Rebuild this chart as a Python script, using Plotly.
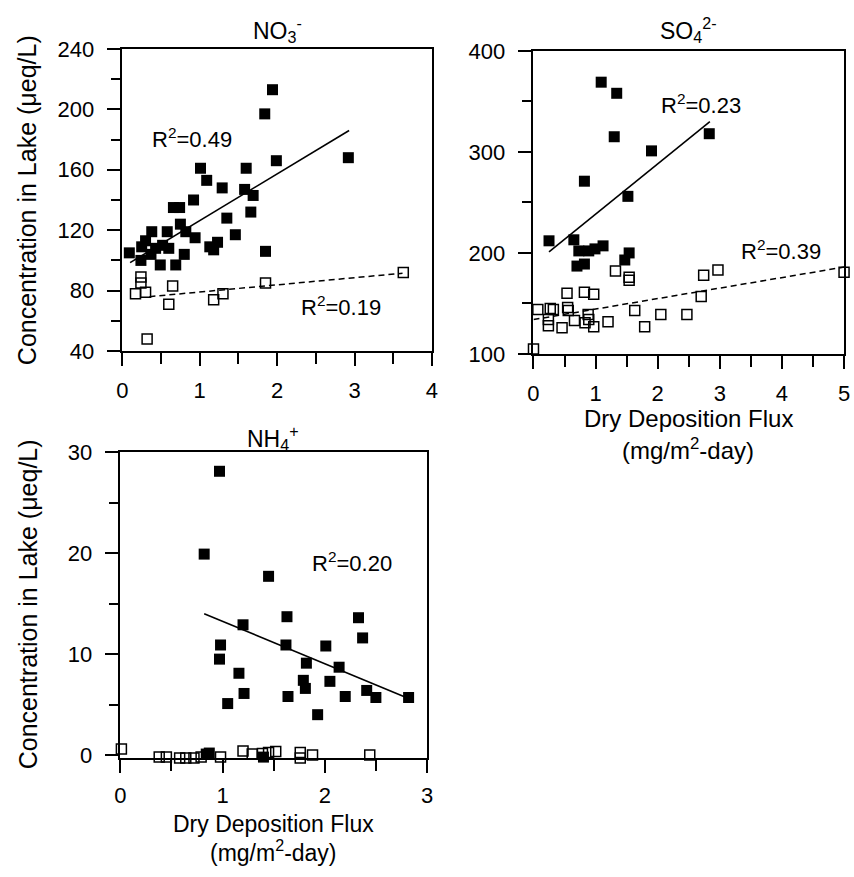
import plotly.graph_objects as go

# ---------------- data ----------------
no3_lake_x = [1.94, 1.84, 2.92, 1.99, 1.01, 1.60, 1.09, 1.29, 1.58, 1.69, 0.92, 0.66, 0.74, 1.66,
              1.35, 0.75, 0.38, 0.58, 0.82, 0.94, 1.46, 0.30, 1.23, 1.13, 0.43, 0.60, 0.09, 1.85,
              1.18, 0.80, 0.24, 0.49, 0.69, 0.37, 0.52, 0.25]
no3_lake_y = [213, 197, 168, 166, 161, 161, 153, 148, 147, 143, 140, 135, 135, 132,
              128, 124, 119, 119, 119, 115, 117, 113, 112, 109, 108, 108, 105, 106,
              107, 104, 100, 97, 97, 104, 110, 109]
no3_open_x = [3.63, 1.85, 0.65, 0.24, 0.24, 0.17, 0.30, 1.30, 1.18, 0.60, 0.32]
no3_open_y = [92, 85, 83, 89, 85, 78, 79, 78, 74, 71, 48]
no3_fit_x = [0.10, 2.93]
no3_fit_y = [98.5, 186]
no3_fit2_x = [0.35, 3.62]
no3_fit2_y = [76, 91.5]

so4_lake_x = [1.09, 1.34, 2.83, 1.30, 1.90, 0.82, 1.52, 0.25, 0.65, 0.73, 0.89, 0.99, 1.12,
              1.54, 1.47, 0.70, 0.82]
so4_lake_y = [369, 358, 318, 315, 301, 271, 256, 212, 213, 202, 202, 204, 207,
              200, 193, 187, 189]
so4_open_x = [5.0, 2.97, 2.74, 1.32, 1.54, 1.54, 2.70, 0.54, 0.82, 0.97, 1.63, 2.05, 2.47,
              0.55, 0.56, 0.07, 0.27, 0.32, 0.88, 0.89, 0.24, 0.24, 0.46, 0.66, 0.83, 0.97,
              1.20, 1.79, 0.0]
so4_open_y = [181, 183, 178, 182, 176, 173, 157, 160, 161, 159, 143, 139, 139,
              146, 143, 144, 145, 144, 139, 134, 134, 128, 126, 133, 131, 127,
              132, 127, 105]
so4_fit_x = [0.25, 2.84]
so4_fit_y = [201, 330]
so4_fit2_x = [0.0, 5.0]
so4_fit2_y = [134, 186]

nh4_lake_x = [0.97, 0.82, 1.45, 2.33, 1.63, 1.20, 2.37, 0.98, 1.62, 2.01, 0.97, 1.82, 2.14,
              1.16, 1.79, 2.05, 1.81, 2.41, 1.21, 2.50, 2.82, 1.64, 2.20, 1.05, 1.93,
              0.84, 0.87, 1.40]
nh4_lake_y = [28.1, 19.9, 17.7, 13.6, 13.7, 12.9, 11.6, 10.9, 10.9, 10.8, 9.5, 9.1, 8.7,
              8.1, 7.4, 7.3, 6.6, 6.4, 6.1, 5.7, 5.7, 5.8, 5.8, 5.1, 4.0,
              0.1, 0.2, -0.2]
nh4_open_x = [0.01, 0.38, 0.45, 0.58, 0.64, 0.72, 0.79, 0.98, 1.14, 1.20, 1.29, 1.39, 1.39,
              1.45, 1.52, 1.76, 1.76, 1.88, 2.44]
nh4_open_y = [0.6, -0.2, -0.2, -0.3, -0.3, -0.3, -0.2, -0.2, -0.4, 0.4, 0.1, 0.15, -0.4,
              0.25, 0.35, 0.25, -0.3, 0.0, 0.0]
nh4_fit_x = [0.82, 2.82]
nh4_fit_y = [14.0, 5.6]

r2_labels = ["R<sup>2</sup>=0.49", "R<sup>2</sup>=0.19", "R<sup>2</sup>=0.23",
             "R<sup>2</sup>=0.39", "R<sup>2</sup>=0.20"]

# ---------------- figure ----------------
W, H = 854, 877
FONT = "Liberation Sans, Arial, sans-serif"
fig = go.Figure()

def px_x(p):
    return p / W

def px_y(p):
    return 1 - p / H

def add_panel(n, fx, fy, ox, oy, fitx, fity, fit2x=None, fit2y=None):
    xa = "x" if n == 1 else f"x{n}"
    ya = "y" if n == 1 else f"y{n}"
    if fit2x is not None:
        fig.add_trace(go.Scatter(x=fit2x, y=fit2y, mode="lines", xaxis=xa, yaxis=ya,
                                 line=dict(color="black", width=1.5, dash="6px,4px"),
                                 showlegend=False, hoverinfo="skip"))
    fig.add_trace(go.Scatter(x=fitx, y=fity, mode="lines", xaxis=xa, yaxis=ya,
                             line=dict(color="black", width=1.6), showlegend=False,
                             hoverinfo="skip"))
    fig.add_trace(go.Scatter(x=ox, y=oy, mode="markers", xaxis=xa, yaxis=ya,
                             marker=dict(symbol="square-open", size=10, color="black",
                                         line=dict(width=1.5, color="black")),
                             showlegend=False, cliponaxis=False))
    fig.add_trace(go.Scatter(x=fx, y=fy, mode="markers", xaxis=xa, yaxis=ya,
                             marker=dict(symbol="square", size=11, color="black",
                                         line=dict(width=0)),
                             showlegend=False, cliponaxis=False))

add_panel(1, no3_lake_x, no3_lake_y, no3_open_x, no3_open_y, no3_fit_x, no3_fit_y,
          no3_fit2_x, no3_fit2_y)
add_panel(2, so4_lake_x, so4_lake_y, so4_open_x, so4_open_y, so4_fit_x, so4_fit_y,
          so4_fit2_x, so4_fit2_y)
add_panel(3, nh4_lake_x, nh4_lake_y, nh4_open_x, nh4_open_y, nh4_fit_x, nh4_fit_y)

tickfont = dict(family=FONT, size=22, color="black")

def xaxis(dom, rng, anchor, standoff=6):
    return dict(domain=dom, range=rng, anchor=anchor, showgrid=False, zeroline=False,
                showline=True, linecolor="black", linewidth=1.5, mirror=True,
                ticks="outside", ticklen=13, tickwidth=1.5, tickcolor="black",
                dtick=1, tick0=0, tickfont=tickfont, ticklabelstandoff=standoff,
                minor=dict(dtick=0.5, ticks="outside", ticklen=11, tickwidth=1.5,
                           tickcolor="black", showgrid=False))

def yaxis(dom, rng, anchor, dt, mdt):
    return dict(domain=dom, range=rng, anchor=anchor, showgrid=False, zeroline=False,
                showline=True, linecolor="black", linewidth=1.5, mirror=True,
                ticks="outside", ticklen=14, tickwidth=1.5, tickcolor="black",
                dtick=dt, tick0=0, tickfont=tickfont, ticklabelstandoff=8,
                minor=dict(dtick=mdt, ticks="outside", ticklen=10, tickwidth=1.5,
                           tickcolor="black", showgrid=False))

fig.update_layout(
    width=W, height=H, margin=dict(l=0, r=0, t=0, b=0),
    paper_bgcolor="white", plot_bgcolor="white",
    font=dict(family=FONT, color="black"),
    xaxis=xaxis([px_x(118), px_x(432)], [0, 4], "y"),
    yaxis=yaxis([px_y(349), px_y(38)], [40, 240], "x", 40, 20),
    xaxis2=xaxis([px_x(535), px_x(850)], [0, 5], "y2"),
    yaxis2=yaxis([px_y(352), px_y(40)], [100, 400], "x2", 100, 50),
    xaxis3=xaxis([px_x(116), px_x(427)], [0, 3], "y3", 4),
    yaxis3=yaxis([px_y(768), px_y(453)], [-0.3, 30], "x3", 10, 5),
)

ann = []
def label(text, x, y, size=22, xref="paper", yref="paper", angle=0):
    ann.append(dict(text=text, x=x, y=y, xref=xref, yref=yref, showarrow=False,
                    xanchor="center", yanchor="middle", textangle=angle,
                    font=dict(family=FONT, size=size, color="black")))

# panel titles
label("NO<sub>3</sub><sup>-</sup>", px_x(275), px_y(19), 23)
label("SO<sub>4</sub><sup>2-</sup>", px_x(692), px_y(19), 23)
label("NH<sub>4</sub><sup>+</sup>", px_x(271), px_y(438), 23)

# R2 labels
label(r2_labels[0], 0.90, 181, 22, "x", "y")
label(r2_labels[1], 2.82, 70, 22, "x", "y")
label(r2_labels[2], 2.69, 347, 22, "x2", "y2")
label(r2_labels[3], 3.98, 203, 22, "x2", "y2")
label(r2_labels[4], 2.27, 19.1, 22, "x3", "y3")

# axis titles
ytitle = "Concentration in Lake (\u03bceq/L)"
label(ytitle, px_x(22), px_y(194), 25, angle=-90)
label(ytitle, px_x(22), px_y(610), 25, angle=-90)
label("Dry Deposition Flux", px_x(692), px_y(418), 24)
label("(mg/m<sup>2</sup>-day)", px_x(692), px_y(450), 24)
label("Dry Deposition Flux", px_x(271), px_y(836), 23)
label("(mg/m<sup>2</sup>-day)", px_x(271), px_y(864), 23)

fig.update_layout(annotations=ann)
fig.write_html("out.html")
